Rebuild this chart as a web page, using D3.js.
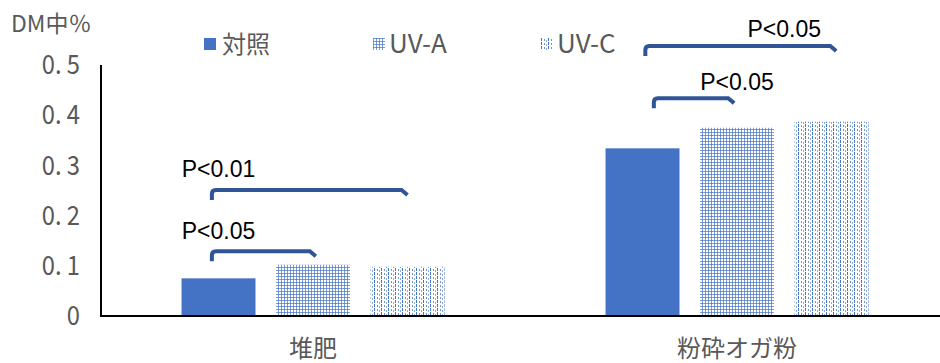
<!DOCTYPE html>
<html><head><meta charset="utf-8">
<script src="https://cdn.jsdelivr.net/npm/d3@7"></script>
<style>
html,body{margin:0;padding:0;background:#fff;}
svg{display:block;}
</style></head>
<body>
<svg id="chart" width="940" height="363"></svg>
<script>
// ---- data ----
const categories = ["堆肥", "粉砕オガ粉"];
const seriesNames = ["対照", "UV-A", "UV-C"];
const valuesControl = [0.075, 0.334];
const valuesUVA = [0.102, 0.375];
const valuesUVC = [0.098, 0.387];
const yTickValues = [0, 0.1, 0.2, 0.3, 0.4, 0.5];
const yTickLabels = ["0", "0. 1", "0. 2", "0. 3", "0. 4", "0. 5"];
const yAxisTitle = "DM中％";
// significance brackets (ends given in series-index units within a category)
const sigCategory = ["堆肥", "堆肥", "粉砕オガ粉", "粉砕オガ粉"];
const sigFrom = [-0.07, -0.07, 0.12, 0.03];
const sigTo = [1.03, 2.0, 0.97, 2.05];
const sigLevel = [0.129, 0.251, 0.434, 0.538];
const sigLabel = ["P<0.05", "P<0.01", "P<0.05", "P<0.05"];
const sigLabelAt = [0, 0, 1, 1.5];
const sigLabelLevel = [0.153, 0.277, 0.450, 0.556];

const seriesValues = [valuesControl, valuesUVA, valuesUVC];

(function () {
// ---- layout ----
const W = 940, H = 363;
const mLeft = 101, mRight = 949, mTop = 65, mBottom = 316;
const blue = "#4472C4", gray = "#595959", bracketColor = "#2F5597";
const cjk = "'Noto Sans CJK JP'";
const narrow = "'Liberation Sans Narrow','Arial Narrow'," + cjk + ",sans-serif";

const svg = d3.select("#chart");

// patterns
const defs = svg.append("defs");
const pA = defs.append("pattern").attr("id", "patA").attr("patternUnits", "userSpaceOnUse")
  .attr("width", 3).attr("height", 3);
pA.append("rect").attr("width", 3).attr("height", 3).attr("fill", "#fff");
pA.append("rect").attr("width", 3).attr("height", 1).attr("fill", blue).attr("opacity", 0.7);
pA.append("rect").attr("width", 1).attr("height", 3).attr("fill", blue).attr("opacity", 0.7);

const pC = defs.append("pattern").attr("id", "patC").attr("patternUnits", "userSpaceOnUse")
  .attr("width", 7).attr("height", 4);
pC.append("rect").attr("width", 7).attr("height", 4).attr("fill", "#fff");
pC.append("rect").attr("x", 0).attr("y", 0).attr("width", 1).attr("height", 3).attr("fill", blue).attr("opacity", 1);
pC.append("rect").attr("x", 3).attr("y", 1).attr("width", 1).attr("height", 2).attr("fill", blue).attr("opacity", 0.75);
pC.append("rect").attr("x", 5).attr("y", 2).attr("width", 1).attr("height", 2).attr("fill", blue).attr("opacity", 0.6);

const fills = [blue, "url(#patA)", "url(#patC)"];

// scales
const x0 = d3.scaleBand().domain(categories).range([mLeft, mRight]).paddingInner(0).paddingOuter(0);
const x1 = d3.scaleBand().domain(d3.range(seriesNames.length)).range([0, x0.bandwidth()])
  .paddingInner(0.217).paddingOuter(0.852);
const y = d3.scaleLinear().domain([0, 0.5]).range([mBottom, mTop]);
const step = x1.step();
const seriesPos = (c, s) => x0(c) + x1(0) + x1.bandwidth() / 2 + s * step;

// bars
const groups = svg.append("g").selectAll("g").data(categories).join("g")
  .attr("transform", d => `translate(${x0(d)},0)`);
groups.selectAll("rect")
  .data((c, ci) => seriesValues.map((vals, si) => ({ si, v: vals[ci] })))
  .join("rect")
  .attr("x", d => x1(d.si))
  .attr("width", x1.bandwidth())
  .attr("y", d => y(d.v))
  .attr("height", d => y(0) - y(d.v))
  .attr("fill", d => fills[d.si]);

// y axis
const yAxis = d3.axisLeft(y).tickValues(yTickValues)
  .tickFormat((d, i) => yTickLabels[i]).tickSize(0).tickPadding(21);
const gy = svg.append("g").attr("transform", `translate(${mLeft},0)`).call(yAxis);
gy.select(".domain").attr("stroke", "#000").attr("stroke-width", 2).attr("d", `M0,${mTop}V${mBottom}`);
gy.selectAll("text").attr("fill", gray).style("font-family", narrow).style("font-size", "27px")
  .attr("x", 0).attr("transform", "translate(-21,0) scale(0.88,1)");

// x axis
const xAxis = d3.axisBottom(x0).tickSize(0).tickPadding(24);
const gx = svg.append("g").attr("transform", `translate(0,${mBottom})`).call(xAxis);
gx.select(".domain").attr("stroke", "#000").attr("stroke-width", 2).attr("d", `M${mLeft - 1},0H${W}`);
gx.selectAll("text").attr("fill", gray).style("font-family", cjk).style("font-size", "24px");

// y title
svg.append("text").attr("x", 11).attr("y", 32).attr("fill", gray)
  .style("font-family", narrow).style("font-size", "23px").text(yAxisTitle);

// legend
const legendX = [204, 373, 541];
const lg = svg.append("g").selectAll("g").data(seriesNames).join("g")
  .attr("transform", (d, i) => `translate(${legendX[i]},38)`);
lg.append("rect").attr("width", 12).attr("height", 12).attr("fill", (d, i) => fills[i]);
lg.append("text").attr("x", (d, i) => i === 0 ? 18 : 16).attr("y", 6).attr("dy", "0.36em")
  .attr("fill", gray)
  .style("font-family", (d, i) => i === 0 ? cjk : narrow)
  .style("font-size", (d, i) => i === 0 ? "24px" : "26px")
  .text(d => d);

// significance brackets
const bg = svg.append("g");
sigCategory.forEach((c, k) => {
  const xl = seriesPos(c, sigFrom[k]);
  const xr = seriesPos(c, sigTo[k]);
  const yl = y(sigLevel[k]);
  const p = d3.path();
  p.moveTo(xl, yl + 10);
  p.lineTo(xl, yl + 4);
  p.quadraticCurveTo(xl, yl, xl + 4, yl);
  p.lineTo(xr - 6, yl);
  p.lineTo(xr, yl + 5);
  bg.append("path").attr("d", p.toString()).attr("fill", "none")
    .attr("stroke", bracketColor).attr("stroke-width", 4).attr("stroke-linejoin", "miter");
  bg.append("text").attr("x", seriesPos(c, sigLabelAt[k])).attr("y", y(sigLabelLevel[k]))
    .attr("text-anchor", "middle").attr("fill", "#000")
    .style("font-family", "'Liberation Sans',Arial,sans-serif").style("font-size", "23px")
    .text(sigLabel[k]);
});
})();
</script>
</body></html>
